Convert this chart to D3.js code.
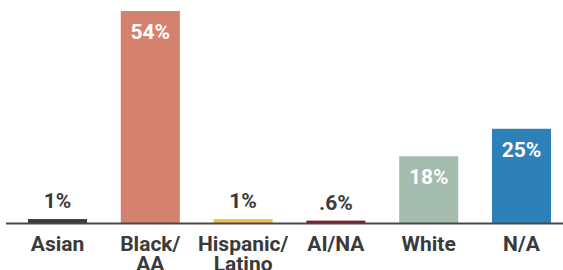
<!DOCTYPE html>
<html><head><meta charset="utf-8">
<script src="https://cdn.jsdelivr.net/npm/d3@7"></script>
<style>html,body{margin:0;padding:0;background:#fff;}svg{display:block;}</style>
</head><body>
<script>
const categories = [["Asian"], ["Black/", "AA"], ["Hispanic/", "Latino"], ["AI/NA"], ["White"], ["N/A"]];
const values = [1, 54, 1, 0.6, 17, 24];
const valueLabels = ["1%", "54%", "1%", ".6%", "18%", "25%"];
const colors = ["#3a3a3c", "#d4826e", "#f0c04a", "#8c1326", "#a4bcad", "#2e80b8"];

const W = 563, H = 270;
const svg = d3.select("body").append("svg").attr("width", W).attr("height", H);
const idx = d3.range(values.length);
const x = d3.scaleBand().domain(idx).range([28, 551]).paddingInner(0.364).paddingOuter(0);
const y = d3.scaleLinear().domain([0, 54]).range([223, 11]);
const font = "Roboto, 'Noto Sans', sans-serif";

svg.selectAll("rect.bar").data(idx).join("rect")
  .attr("x", i => x(i)).attr("width", x.bandwidth())
  .attr("y", i => y(values[i])).attr("height", i => y(0) - y(values[i]))
  .attr("fill", i => colors[i]);

svg.append("line").attr("x1", 6).attr("x2", W).attr("y1", y(0) + 0.5).attr("y2", y(0) + 0.5)
  .attr("stroke", "#48484a").attr("stroke-width", 2);

svg.selectAll("text.val").data(idx).join("text")
  .attr("x", i => x(i) + x.bandwidth() / 2)
  .attr("y", i => values[i] > 5 ? y(values[i]) + 28 : y(values[i]) - 11)
  .attr("text-anchor", "middle")
  .attr("font-family", font).attr("font-weight", 700).attr("font-size", 21)
  .attr("fill", i => values[i] > 5 ? "#ffffff" : "#3a3a3c")
  .text(i => valueLabels[i]);

const cat = svg.selectAll("text.cat").data(idx).join("text")
  .attr("text-anchor", "middle")
  .attr("font-family", font).attr("font-weight", 700).attr("font-size", 21)
  .attr("fill", "#3a3a3c");
cat.each(function(i) {
  const t = d3.select(this);
  categories[i].forEach((line, k) => {
    t.append("tspan").attr("x", x(i) + x.bandwidth() / 2).attr("y", 250.5 + k * 20).text(line);
  });
});
</script>
</body></html>
